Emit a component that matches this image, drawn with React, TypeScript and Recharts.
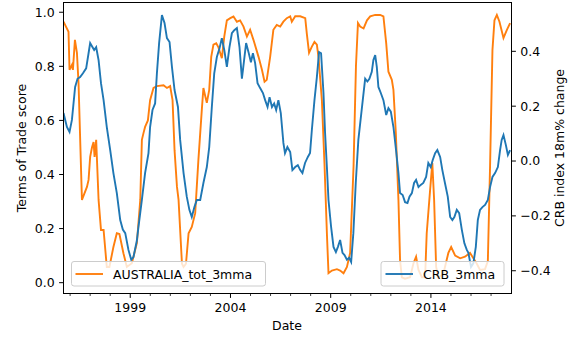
import { Line, LineChart, XAxis, YAxis } from "recharts";

// AUSTRALIA_tot_3mma (left axis), decimal years
const totYears = [
  1995.67, 1995.92, 1995.97, 1996.09, 1996.14, 1996.24, 1996.34, 1996.42, 1996.59, 1996.84,
  1996.92, 1997.0, 1997.09, 1997.17, 1997.22, 1997.3, 1997.42, 1997.54, 1997.67, 1997.83,
  1997.96, 1998.16, 1998.33, 1998.46, 1998.66, 1998.83, 1999.08, 1999.33, 1999.5, 1999.58,
  1999.66, 1999.74, 1999.88, 1999.99, 2000.16, 2000.33, 2000.66, 2000.83, 2000.99, 2001.11,
  2001.21, 2001.33, 2001.41, 2001.58, 2001.66, 2001.78, 2001.91, 2002.07, 2002.24, 2002.4,
  2002.57, 2002.65, 2002.74, 2002.82, 2002.94, 2003.04, 2003.15, 2003.29, 2003.4, 2003.57,
  2003.69, 2003.82, 2003.99, 2004.15, 2004.32, 2004.48, 2004.65, 2004.82, 2004.98, 2005.15,
  2005.4, 2005.57, 2005.7, 2005.81, 2005.98, 2006.14, 2006.31, 2006.48, 2006.64, 2006.81,
  2006.98, 2007.06, 2007.23, 2007.48, 2007.73, 2007.81, 2007.92, 2008.06, 2008.19, 2008.31,
  2008.39, 2008.56, 2008.69, 2008.81, 2008.89, 2009.06, 2009.31, 2009.47, 2009.64, 2009.81,
  2009.97, 2010.14, 2010.26, 2010.36, 2010.47, 2010.64, 2010.81, 2010.97, 2011.22, 2011.47,
  2011.63, 2011.77, 2011.88, 2012.05, 2012.13, 2012.25, 2012.38, 2012.46, 2012.55, 2012.71,
  2012.96, 2013.13, 2013.26, 2013.38, 2013.55, 2013.71, 2013.79, 2013.96, 2014.07, 2014.16,
  2014.26, 2014.37, 2014.61, 2014.87, 2015.01, 2015.21, 2015.46, 2015.7, 2015.95, 2016.12,
  2016.29, 2016.45, 2016.7, 2016.84, 2016.95, 2017.07, 2017.17, 2017.29, 2017.42, 2017.62,
  2017.79, 2017.95,
];
const totValues = [
  0.965, 0.928, 0.787, 0.805, 0.787, 0.898, 0.85, 0.738, 0.306, 0.354,
  0.38, 0.465, 0.5, 0.52, 0.465, 0.528, 0.306, 0.195, 0.195, 0.058,
  0.058, 0.132, 0.183, 0.18, 0.109, 0.058, 0.072, 0.146, 0.306, 0.528,
  0.553, 0.576, 0.6, 0.675, 0.72, 0.727, 0.73, 0.72, 0.727, 0.675,
  0.49, 0.355, 0.306, 0.07, 0.058, 0.07, 0.183, 0.206, 0.257, 0.454,
  0.639, 0.72, 0.69, 0.665, 0.713, 0.835, 0.88, 0.885, 0.87, 0.83,
  0.91, 0.97, 0.978, 0.984, 0.965, 0.97, 0.947, 0.91, 0.935, 0.897,
  0.835, 0.787, 0.743, 0.75, 0.835, 0.935, 0.953, 0.947, 0.965, 0.978,
  0.985, 0.965, 0.985, 0.985, 0.978, 0.92, 0.85, 0.873, 0.89, 0.88,
  0.835, 0.675, 0.44, 0.183, 0.035, 0.045, 0.05, 0.045, 0.035, 0.058,
  0.11, 0.43, 0.8, 0.96, 0.947, 0.94, 0.97, 0.985, 0.99, 0.99,
  0.985, 0.885, 0.78, 0.75, 0.713, 0.553, 0.306, 0.084, 0.02, 0.015,
  0.02, 0.072, 0.096, 0.047, 0.02, 0.02, 0.183, 0.343, 0.442, 0.306,
  0.058, 0.02, 0.03, 0.11, 0.132, 0.1, 0.09, 0.096, 0.11, 0.09,
  0.07, 0.047, 0.05, 0.08, 0.43, 0.86, 0.97, 0.99, 0.965, 0.905,
  0.935, 0.96,
];

// CRB_3mma (right axis)
const crbYears = [
  1995.67, 1995.84, 1995.97, 1996.09, 1996.25, 1996.37, 1996.5, 1996.64, 1996.8, 1996.92,
  1997.0, 1997.12, 1997.2, 1997.3, 1997.42, 1997.54, 1997.67, 1997.83, 1998.0, 1998.16,
  1998.33, 1998.5, 1998.63, 1998.75, 1998.91, 1999.05, 1999.16, 1999.33, 1999.41, 1999.58,
  1999.74, 1999.91, 1999.99, 2000.11, 2000.24, 2000.33, 2000.44, 2000.58, 2000.71, 2000.83,
  2000.96, 2001.08, 2001.21, 2001.38, 2001.49, 2001.66, 2001.82, 2001.95, 2002.07, 2002.2,
  2002.32, 2002.49, 2002.65, 2002.82, 2002.94, 2003.07, 2003.19, 2003.32, 2003.45, 2003.57,
  2003.69, 2003.82, 2003.95, 2004.07, 2004.19, 2004.32, 2004.45, 2004.57, 2004.68, 2004.78,
  2004.9, 2005.02, 2005.12, 2005.23, 2005.35, 2005.48, 2005.62, 2005.73, 2005.85, 2005.95,
  2006.07, 2006.18, 2006.28, 2006.39, 2006.51, 2006.64, 2006.72, 2006.84, 2006.98, 2007.09,
  2007.23, 2007.36, 2007.48, 2007.59, 2007.72, 2007.86, 2007.97, 2008.06, 2008.19, 2008.31,
  2008.42, 2008.52, 2008.64, 2008.72, 2008.81, 2008.89, 2009.02, 2009.14, 2009.26, 2009.36,
  2009.47, 2009.59, 2009.69, 2009.81, 2009.92, 2010.02, 2010.13, 2010.25, 2010.38, 2010.6,
  2010.72, 2010.83, 2010.93, 2011.05, 2011.13, 2011.22, 2011.3, 2011.38, 2011.5, 2011.63,
  2011.77, 2011.88, 2012.0, 2012.13, 2012.26, 2012.38, 2012.46, 2012.59, 2012.71, 2012.83,
  2012.93, 2013.05, 2013.16, 2013.26, 2013.38, 2013.49, 2013.62, 2013.76, 2013.87, 2013.99,
  2014.09, 2014.21, 2014.32, 2014.46, 2014.57, 2014.7, 2014.84, 2014.96, 2015.07, 2015.17,
  2015.29, 2015.41, 2015.54, 2015.67, 2015.79, 2015.87, 2016.0, 2016.12, 2016.24, 2016.34,
  2016.45, 2016.57, 2016.7, 2016.84, 2016.95, 2017.07, 2017.2, 2017.34, 2017.45, 2017.53,
  2017.62, 2017.74, 2017.84, 2017.95,
];
const crbValues = [
  0.175, 0.124, 0.106, 0.15, 0.27, 0.3, 0.306, 0.32, 0.338, 0.393,
  0.43, 0.415, 0.405, 0.415, 0.368, 0.284, 0.222, 0.124, 0.04, -0.044,
  -0.117, -0.215, -0.25, -0.263, -0.324, -0.36, -0.35, -0.29, -0.24, -0.142,
  -0.044, 0.029, 0.124, 0.186, 0.21, 0.32, 0.43, 0.532, 0.503, 0.448,
  0.434, 0.343, 0.259, 0.197, 0.077, -0.044, -0.13, -0.178, -0.204, -0.168,
  -0.142, -0.142, -0.08, -0.022, 0.051, 0.197, 0.32, 0.379, 0.41, 0.448,
  0.405, 0.343, 0.415, 0.466, 0.477, 0.485, 0.415, 0.3, 0.368, 0.43,
  0.397, 0.36, 0.393, 0.357, 0.284, 0.266, 0.248, 0.222, 0.197, 0.233,
  0.197, 0.21, 0.186, 0.222, 0.175, 0.066, 0.029, 0.051, 0.033, -0.033,
  -0.022, -0.015, -0.033, -0.044, -0.007, 0.015, 0.029, 0.113, 0.222, 0.306,
  0.397, 0.393, 0.248, 0.102, -0.022, -0.142, -0.24, -0.313, -0.332, -0.313,
  -0.288, -0.335, -0.343, -0.36, -0.353, -0.368, -0.263, -0.08, 0.077, 0.222,
  0.3, 0.29, 0.3, 0.325, 0.368, 0.386, 0.343, 0.27, 0.248, 0.222,
  0.168, 0.193, 0.18, 0.124, 0.04, -0.044, -0.117, -0.124, -0.15, -0.153,
  -0.13, -0.117, -0.08, -0.069, -0.095, -0.087, -0.08, -0.058, -0.007, -0.022,
  0.004, 0.029, 0.04, 0.015, -0.033, -0.08, -0.13, -0.204, -0.215, -0.204,
  -0.178, -0.19, -0.25, -0.3, -0.324, -0.335, -0.386, -0.372, -0.313, -0.215,
  -0.178, -0.168, -0.16, -0.142, -0.095, -0.058, -0.044, -0.022, 0.04, 0.077,
  0.095, 0.058, 0.022, 0.04,
];

const yearTicks = [
  1996, 1997, 1998, 1999, 2000, 2001, 2002, 2003, 2004, 2005, 2006,
  2007, 2008, 2009, 2010, 2011, 2012, 2013, 2014, 2015, 2016, 2017,
];
const labelledYears = [1999, 2004, 2009, 2014];
const leftTicks = [0, 0.2, 0.4, 0.6, 0.8, 1.0];
const rightTicks = [-0.4, -0.2, 0, 0.2, 0.4];

const FONT = "DejaVu Sans";
const FS = 12.5;
const ORANGE = "#ff7f0e";
const BLUE = "#1f77b4";

type Row = { t: number; tot?: number; crb?: number };

// both series on one numeric date axis
const rows = new Map<number, Row>();
totYears.forEach((t, i) => {
  const r = rows.get(t) ?? { t };
  r.tot = totValues[i];
  rows.set(t, r);
});
crbYears.forEach((t, i) => {
  const r = rows.get(t) ?? { t };
  r.crb = crbValues[i];
  rows.set(t, r);
});
const data = [...rows.values()].sort((a, b) => a.t - b.t);

function DateTick({ x, y, payload }: any) {
  const major = labelledYears.includes(payload.value);
  return (
    <g>
      <line
        x1={x}
        x2={x}
        y1={y}
        y2={y + (major ? 4.4 : 2.5)}
        stroke="#000"
        strokeWidth={major ? 1 : 0.75}
      />
      {major && (
        <text x={x} y={y + 18.5} textAnchor="middle" fontFamily={FONT} fontSize={FS} fill="#000">
          {payload.value}
        </text>
      )}
    </g>
  );
}

const fmt = (v: number) => v.toFixed(1).replace("-", "\u2212");

export default function App() {
  return (
    <div style={{ position: "absolute", left: 0, top: 0, width: 569, height: 337, background: "#fff" }}>
      <LineChart width={569} height={337} data={data} margin={{ top: 2.5, right: 0, bottom: 0, left: 0 }}>
        <XAxis
          dataKey="t"
          type="number"
          domain={[1995.67, 2018.02]}
          allowDataOverflow
          ticks={yearTicks}
          interval={0}
          height={43.5}
          axisLine={false}
          tickLine={false}
          tickSize={0}
          tickMargin={0}
          tick={<DateTick />}
        />
        <YAxis
          yAxisId="left"
          width={63.5}
          domain={[-0.04, 1.036]}
          allowDataOverflow
          ticks={leftTicks}
          tickFormatter={fmt}
          axisLine={false}
          tickLine={{ stroke: "#000" }}
          tickSize={4.4}
          tickMargin={4.4}
          tick={{ fill: "#000", fontSize: FS, fontFamily: FONT }}
        />
        <YAxis
          yAxisId="right"
          orientation="right"
          width={57.5}
          domain={[-0.483, 0.578]}
          allowDataOverflow
          ticks={rightTicks}
          tickFormatter={fmt}
          axisLine={false}
          tickLine={{ stroke: "#000" }}
          tickSize={4.4}
          tickMargin={4.4}
          tick={{ fill: "#000", fontSize: FS, fontFamily: FONT }}
        />
        <Line
          yAxisId="left"
          dataKey="tot"
          type="linear"
          stroke={ORANGE}
          strokeWidth={1.9}
          dot={false}
          connectNulls
          isAnimationActive={false}
        />
        <Line
          yAxisId="right"
          dataKey="crb"
          type="linear"
          stroke={BLUE}
          strokeWidth={1.9}
          dot={false}
          connectNulls
          isAnimationActive={false}
        />
      </LineChart>
      <svg
        width={569}
        height={337}
        style={{ position: "absolute", left: 0, top: 0, pointerEvents: "none" }}
        fontFamily={FONT}
        fontSize={FS}
      >
        <rect x={63.5} y={2.5} width={448} height={291} fill="none" stroke="#000" strokeWidth={1} />
        <text transform="translate(26,148) rotate(-90)" textAnchor="middle" fill="#000">
          Terms of Trade score
        </text>
        <text transform="translate(564,148) rotate(-90)" textAnchor="middle" fill="#000">
          CRB index 18m% change
        </text>
        <text x={287} y={330} textAnchor="middle" fill="#000">
          Date
        </text>
        <rect x={71.5} y={261.5} width={194} height={24.5} rx={2.5} fill="#fff" fillOpacity={0.8} stroke="#ccc" />
        <line x1={75.5} x2={103} y1={274} y2={274} stroke={ORANGE} strokeWidth={1.9} />
        <text x={113} y={278.5} fill="#000">
          AUSTRALIA_tot_3mma
        </text>
        <rect x={381} y={261.5} width={123} height={24.5} rx={2.5} fill="#fff" fillOpacity={0.8} stroke="#ccc" />
        <line x1={385.5} x2={413} y1={274} y2={274} stroke={BLUE} strokeWidth={1.9} />
        <text x={423} y={278.5} fill="#000">
          CRB_3mma
        </text>
      </svg>
    </div>
  );
}
